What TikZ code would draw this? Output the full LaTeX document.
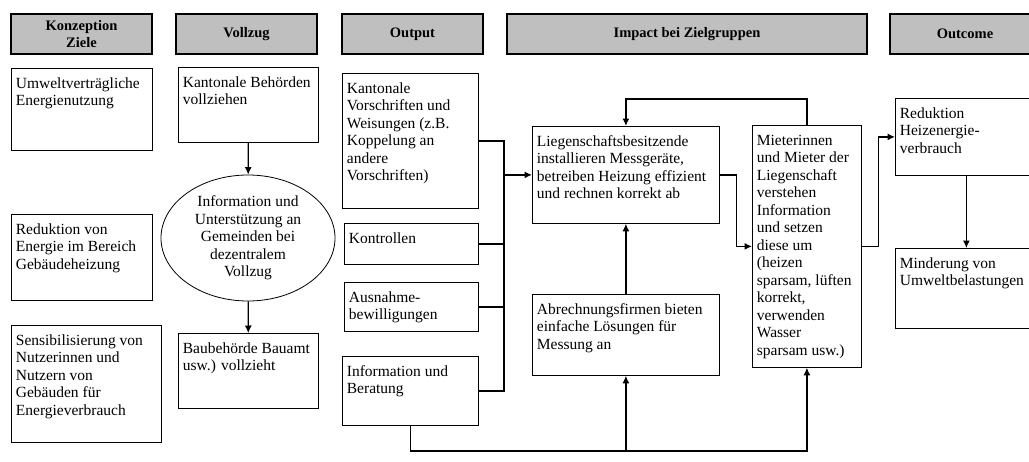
\documentclass[tikz,border=0pt]{standalone}
\usepackage{fontspec}
\setmainfont{Liberation Serif}
\usetikzlibrary{shapes.geometric,arrows.meta}

\newcommand{\feld}[3]{\parbox[t][\dimexpr#2pt-15.5pt\relax][t]{\dimexpr#1pt-9pt\relax}{\raggedright\strut#3}}

\tikzset{
  kopf/.style={draw, line width=1.1pt, fill=black!25, inner sep=0pt, align=center,
    minimum height=40pt, font=\bfseries\fontsize{14.5}{17}\selectfont},
  kasten/.style={draw, line width=.8pt, anchor=north west, inner xsep=4.5pt, inner ysep=7.75pt},
  pfeil/.style={line width=1.2pt, -{Latex[length=7.5pt,width=7pt]}},
  linie/.style={line width=1.2pt}
}

\begin{document}
\begin{tikzpicture}[x=1pt, y=-1pt, font=\fontsize{15.5}{17.5}\selectfont]
    \useasboundingbox (0,0) rectangle (1029,461);

    % Spaltenkoepfe
    \node[kopf, minimum width=141pt] (hkonz) at (81.5,34) {Konzeption\\Ziele};
    \node[kopf, minimum width=141pt] (hvollzug) at (246.5,34) {Vollzug};
    \node[kopf, minimum width=141pt] (houtput) at (412.5,34) {Output};
    \node[kopf, minimum width=360pt] (himpact) at (687,34) {Impact bei Zielgruppen};
    \node[kopf, minimum width=150pt] (houtcome) at (965,34) {Outcome};

    % Konzeption
    \node[kasten] (ziel1) at (11,68) {\feld{141}{82}{Umweltverträgliche\\Energienutzung}};
    \node[kasten] (ziel2) at (11,214) {\feld{141}{86}{Reduktion von\\Energie im Bereich\\Gebäudeheizung}};
    \node[kasten] (ziel3) at (11,325) {\feld{150}{117}{Sensibilisierung von\\Nutzerinnen und\\Nutzern von\\Gebäuden für\\Energieverbrauch}};

    % Vollzug
    \node[kasten] (kantbeh) at (178,67) {\feld{140}{75}{Kantonale Behörden\\vollziehen}};
    \node[draw, ellipse, line width=.8pt, minimum width=174pt, minimum height=126pt,
      inner sep=0pt, align=center] (info) at (248,238)
      {Information und\\Unterstützung an\\Gemeinden bei\\dezentralem\\Vollzug};
    \node[kasten] (baubeh) at (178,333) {\feld{140}{75}{Baubehörde Bauamt\\usw.) vollzieht}};

    % Output
    \node[kasten] (vorschr) at (342,73) {\feld{136}{135}{Kantonale\\Vorschriften und\\Weisungen (z.B.\\Koppelung an\\andere\\Vorschriften)}};
    \node[kasten] (kontr) at (344,223) {\feld{134}{41}{Kontrollen}};
    \node[kasten] (ausn) at (344,282) {\feld{134}{49}{Ausnahme-\\bewilligungen}};
    \node[kasten] (beratung) at (342,356) {\feld{136}{69}{Information und\\Beratung}};

    % Impact
    \node[kasten] (liegen) at (532,126) {\feld{187}{97}{Liegenschaftsbesitzende\\installieren Messgeräte,\\betreiben Heizung effizient\\und rechnen korrekt ab}};
    \node[kasten] (abrech) at (532,294) {\feld{187}{81}{Abrechnungsfirmen bieten\\einfache Lösungen für\\Messung an}};
    \node[kasten] (mieter) at (752,125) {\feld{109}{242}{Mieterinnen\\und Mieter der\\Liegenschaft\\verstehen\\Information\\und setzen\\diese um\\(heizen\\sparsam, lüften\\korrekt,\\verwenden\\Wasser\\sparsam usw.)}};

    % Outcome
    \node[kasten] (redheiz) at (895,98) {\feld{142}{77}{Reduktion\\Heizenergie-\\verbrauch}};
    \node[kasten] (minder) at (895,248) {\feld{142}{80}{Minderung von\\Umweltbelastungen}};

    \coordinate (bus) at (504,0);
    \coordinate (unten) at (0,451);

    \path[draw, pfeil] (kantbeh) -- (info);
    \path[draw, pfeil] (info) -- (baubeh);
    \path[draw, linie] (vorschr.east) -| (beratung.east -| bus) -- (beratung.east);
    \path[draw, linie] (kontr.east) -- (kontr.east -| bus);
    \path[draw, linie] (ausn.east) -- (ausn.east -| bus);
    \path[draw, pfeil] (liegen.west -| bus) -- (liegen.west);
    \path[draw, pfeil] (abrech) -- (liegen);
    \path[draw, pfeil] (beratung.south) |- (mieter.south |- unten) -- (mieter.south);
    \path[draw, pfeil] (abrech.south |- unten) -- (abrech.south);
    \path[draw, pfeil] (liegen.east) -- ++(17,0) |- (mieter.west);
    \path[draw, pfeil] (mieter.north) -- ++(0,-26) -| (liegen.north);
    \path[draw, pfeil] (mieter.east) -- ++(17,0) |- (redheiz.west);
    \path[draw, pfeil] (redheiz) -- (minder);
\end{tikzpicture}
\end{document}
